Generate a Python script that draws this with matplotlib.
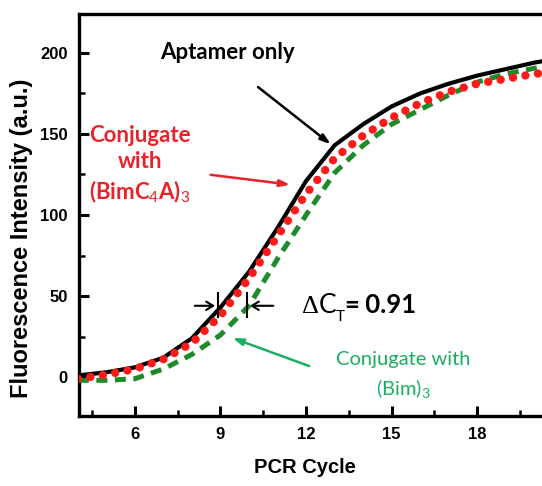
import matplotlib
matplotlib.use("Agg")
import matplotlib.pyplot as plt
from matplotlib.ticker import MultipleLocator
from matplotlib.transforms import offset_copy

cycles = [4, 5, 6, 7, 8, 9, 10, 11, 12, 13, 14, 15, 16, 17, 18, 19, 20, 21]
aptamer_only = [1, 3, 6, 12, 24, 43, 65, 92, 121, 143, 156, 167, 175, 181, 186, 190, 194, 197]
conj_bimc4a = [-1, 1.5, 5, 11, 21, 38, 61, 87, 113, 135, 149, 160, 169, 176, 181, 184, 187, 189]
conj_bim = [-2, -2, -1, 5, 14, 26, 44, 73, 100, 126, 143, 156, 165, 174, 182, 187, 190.5, 193]

x_ticks = [6, 9, 12, 15, 18]
y_ticks = [0, 50, 100, 150, 200]
delta_ct_label = "0.91"

plt.rcParams["mathtext.fontset"] = "custom"
plt.rcParams["mathtext.rm"] = "Lato"
plt.rcParams["mathtext.it"] = "Lato:italic"
plt.rcParams["mathtext.bf"] = "Lato:bold"

W, H = 542, 486
fig = plt.figure(figsize=(W / 100, H / 100), dpi=100)
ax = fig.add_axes([79 / W, 70 / H, 1 - 79 / W, (416 - 14) / H])

BLACK = "black"
RED = "#ff1a1a"
GREEN_LINE = "#1f8a2a"
GREEN_TXT = "#1aae62"
RED_TXT = "#e8222a"

ax.plot(cycles, aptamer_only, color=BLACK, lw=3.0, solid_capstyle="round", zorder=3)
ax.plot(cycles, conj_bim, color=GREEN_LINE, lw=3.6, linestyle=(0, (2.2, 1.5)),
        dash_capstyle="butt", zorder=4)
ax.plot(cycles, conj_bimc4a, color=RED, lw=6.0, linestyle=(0, (0.01, 1.5)),
        dash_capstyle="round", zorder=5)

ax.set_xlim(4.04, 20.27)
ax.set_ylim(-24, 224)
ax.xaxis.set_minor_locator(MultipleLocator(1.5))
ax.yaxis.set_minor_locator(MultipleLocator(25))
ax.set_xticks(x_ticks)
ax.set_yticks(y_ticks)
ax.tick_params(which="major", direction="in", length=7, width=2.2, labelsize=12, pad=8)
ax.tick_params(which="minor", direction="in", length=4, width=1.8)
for lbl in ax.get_xticklabels() + ax.get_yticklabels():
    lbl.set_fontfamily("Liberation Sans")
    lbl.set_fontweight("bold")
for s in ["left", "bottom", "top"]:
    ax.spines[s].set_linewidth(2.4)
ax.spines["right"].set_visible(False)

fig.text(305 / W, 1 - 467 / H, "PCR Cycle", ha="center", va="center",
         fontsize=14.5, fontweight="bold", family="Liberation Sans")
fig.text(22 / W, 1 - 238 / H, "Fluorescence Intensity (a.u.)", ha="center", va="center",
         rotation=90, fontsize=17, fontweight="bold", family="Liberation Sans")

ANN = "Lato"
# Aptamer only
ax.text(9.26, 200, "Aptamer only", ha="center", va="center", fontsize=16,
        fontweight="bold", family=ANN, color=BLACK)
ax.annotate("", xy=(12.94, 142.6), xytext=(10.24, 180),
            arrowprops=dict(arrowstyle="-|>,head_length=0.6,head_width=0.2", color=BLACK, lw=1.8))

# Conjugate with (BimC4A)3
ax.text(6.18, 131, "Conjugate\nwith\n(BimC$_4$A)$_3$", ha="center", va="center",
        fontsize=16, fontweight="bold", family=ANN, color=RED_TXT, linespacing=1.3)
ax.annotate("", xy=(11.54, 118.5), xytext=(8.56, 125),
            arrowprops=dict(arrowstyle="-|>,head_length=0.6,head_width=0.2", color=RED_TXT, lw=1.8))

# Conjugate with (Bim)3
ax.text(15.4, 1, "Conjugate with\n(Bim)$_3$", ha="center", va="center",
        fontsize=14.5, family=ANN, color=GREEN_TXT, linespacing=1.45)
ax.annotate("", xy=(9.33, 24.7), xytext=(12.2, 6.2),
            arrowprops=dict(arrowstyle="-|>,head_length=0.6,head_width=0.2", color=GREEN_TXT, lw=1.8))

# Delta Ct markers
yc = 44
ax.annotate("", xy=(8.91, yc), xytext=(8.0, yc),
            arrowprops=dict(arrowstyle="->,head_length=0.5,head_width=0.3", color=BLACK, lw=1.5))
ax.annotate("", xy=(9.93, yc), xytext=(10.95, yc),
            arrowprops=dict(arrowstyle="->,head_length=0.5,head_width=0.3", color=BLACK, lw=1.5))
ax.plot([8.91, 8.91], [37, 52], color=BLACK, lw=1.5, zorder=6)
ax.plot([9.93, 9.93], [37, 52], color=BLACK, lw=1.5, zorder=6)

# Delta C_T = 0.91, composed of pieces placed one after another on a common baseline
renderer = fig.canvas.get_renderer()
pieces = [
    ("\u0394", dict(family="Liberation Serif", fontsize=19), 0, 0),
    ("C", dict(family=ANN, fontsize=19), 0, 0),
    ("T", dict(family=ANN, fontsize=11), -6, -1),
    ("=", dict(family=ANN, fontsize=18.5, fontweight="bold"), 0, 0),
    (" " + delta_ct_label, dict(family=ANN, fontsize=18.5, fontweight="bold"), 0, -1),
]
x0, y0 = 11.86, 39.5
dx_px = 0.0
for txt, kw, dy, gap in pieces:
    tr = offset_copy(ax.transData, fig=fig, x=(dx_px + gap) * 72 / 100, y=dy, units="points")
    t = ax.text(x0, y0, txt, ha="left", va="baseline", color=BLACK, transform=tr, **kw)
    bb = t.get_window_extent(renderer)
    dx_px += gap + bb.width

fig.savefig("out.png", dpi=100)
